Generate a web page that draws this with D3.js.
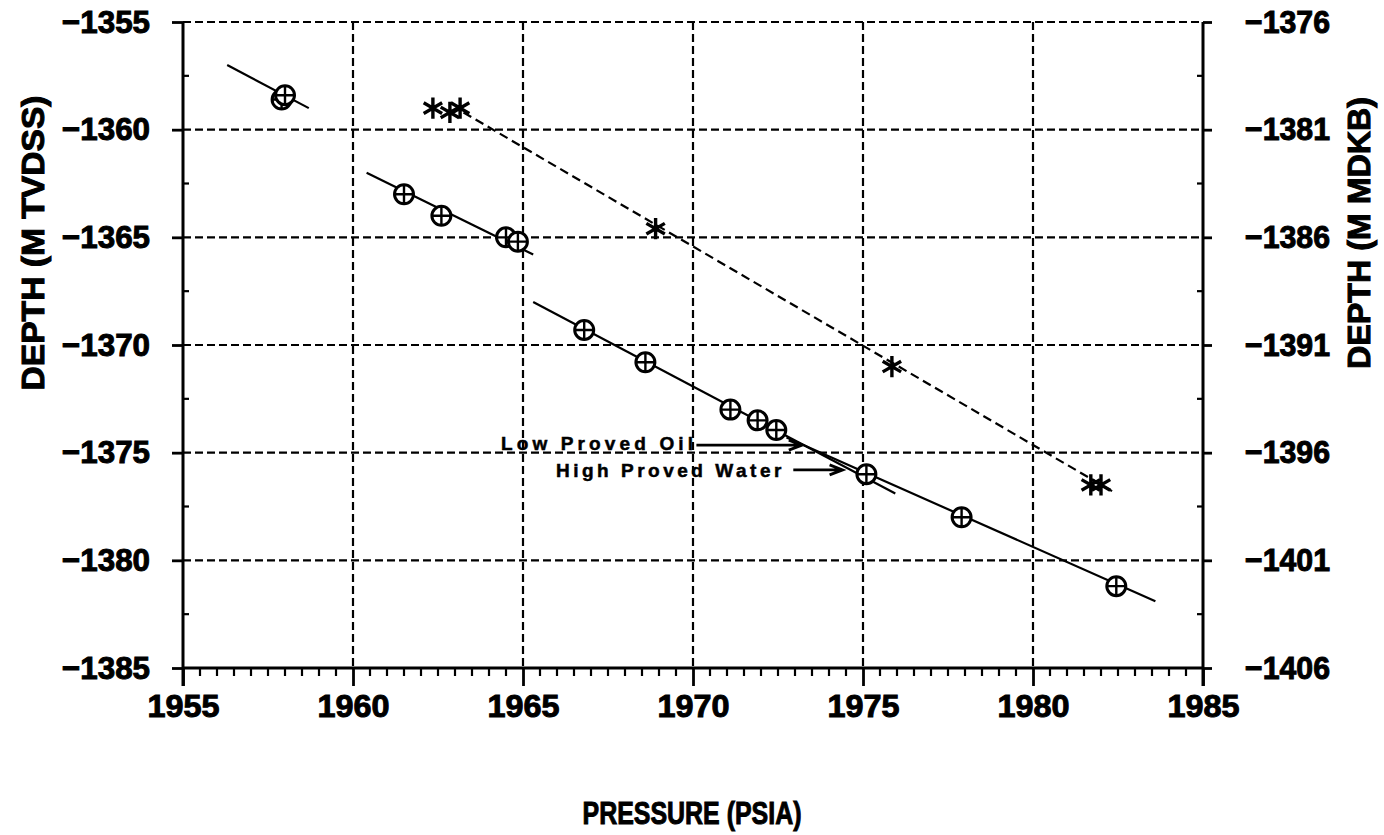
<!DOCTYPE html>
<html>
<head>
<meta charset="utf-8">
<script src="https://cdn.jsdelivr.net/npm/d3@7/dist/d3.min.js"></script>
<style>
  body { margin: 0; background: #fff; }
  svg { display: block; }
  .tick text, .title { font-family: "Liberation Sans", Arial, sans-serif; font-weight: bold; stroke: #000; stroke-width: 1px; }
  .note { font-family: "Liberation Sans", Arial, sans-serif; font-weight: bold; stroke: #000; stroke-width: 0.5px; }
</style>
</head>
<body>
<div id="chart"></div>
<script>
// pressure / depth readings (circles = measured points, stars = second well)
var circlePressure = [1957.9, 1958.0, 1961.5, 1962.6, 1964.5, 1964.85, 1966.8, 1968.6, 1971.1, 1971.9, 1972.45, 1975.1, 1977.9, 1982.45];
var circleDepth    = [-1358.6, -1358.4, -1363.0, -1364.0, -1365.0, -1365.2, -1369.3, -1370.8, -1373.0, -1373.5, -1373.95, -1376.0, -1378.0, -1381.2];
var starPressure   = [1962.35, 1962.85, 1963.15, 1968.9, 1975.85, 1981.7, 1982.0];
var starDepth      = [-1359.0, -1359.2, -1359.0, -1364.6, -1371.0, -1376.5, -1376.5];

// fitted gradient lines, as [pressure, depth] end points
var fitLines = [
    [[1956.3, -1357.0], [1958.7, -1359.0]],
    [[1960.4, -1362.0], [1965.3, -1365.8]],
    [[1965.3, -1368.0], [1975.95, -1376.9]],
    [[1972.75, -1374.3], [1983.6, -1381.9]]
];
var starLine = [[1963.25, -1359.2], [1982.45, -1376.9]];

var xTicks  = [1955, 1960, 1965, 1970, 1975, 1980, 1985];
var yTicks  = [-1355, -1360, -1365, -1370, -1375, -1380, -1385];
var y2Ticks = [-1376, -1381, -1386, -1391, -1396, -1401, -1406];
var notes   = ['Low Proved Oil', 'High Proved Water'];

var chart_width  = 1384;
var chart_height = 835;

var svg = d3.select('#chart')
    .append('svg')
    .attr('width', chart_width)
    .attr('height', chart_height);

var x_scale  = d3.scaleLinear().domain([1955, 1985]).range([183, 1203]);
var y_scale  = d3.scaleLinear().domain([-1355, -1385]).range([22, 668]);
var y2_scale = d3.scaleLinear().domain([-1376, -1406]).range([22, 668]);

// note: "top" is taken by window.top, so use other names
var xLeft = x_scale(1955), xRight = x_scale(1985), yTop = y_scale(-1355), yBottom = y_scale(-1385);

// dashed grid
svg.append('g').selectAll('line')
    .data(yTicks)
    .enter().append('line')
    .attr('x1', xLeft).attr('x2', xRight)
    .attr('y1', d => y_scale(d)).attr('y2', d => y_scale(d))
    .attr('stroke', '#000').attr('stroke-width', 2.2).attr('stroke-dasharray', '8,4');
svg.append('g').selectAll('line')
    .data(xTicks.slice(1, -1))
    .enter().append('line')
    .attr('x1', d => x_scale(d)).attr('x2', d => x_scale(d))
    .attr('y1', yTop).attr('y2', yBottom)
    .attr('stroke', '#000').attr('stroke-width', 2.2).attr('stroke-dasharray', '8,4');

// minor ticks (x every 0.5, y every 2.5)
var xMinor = d3.range(1955, 1985.01, 0.5).filter(d => d % 5 !== 0);
svg.append('g').selectAll('line')
    .data(xMinor)
    .enter().append('line')
    .attr('x1', d => x_scale(d)).attr('x2', d => x_scale(d))
    .attr('y1', yBottom).attr('y2', yBottom + 8)
    .attr('stroke', '#000').attr('stroke-width', 2.2);
var yMinor = d3.range(-1357.5, -1385, -5);
svg.append('g').selectAll('line')
    .data(yMinor)
    .enter().append('line')
    .attr('x1', xLeft).attr('x2', xLeft + 6)
    .attr('y1', d => y_scale(d)).attr('y2', d => y_scale(d))
    .attr('stroke', '#000').attr('stroke-width', 2.2);
svg.append('g').selectAll('line')
    .data(yMinor)
    .enter().append('line')
    .attr('x1', xRight).attr('x2', xRight - 6)
    .attr('y1', d => y_scale(d)).attr('y2', d => y_scale(d))
    .attr('stroke', '#000').attr('stroke-width', 2.2);

// axes
var minus = d => '\u2212' + Math.abs(d);
var xAxis = svg.append('g')
    .attr('transform', 'translate(0,' + yBottom + ')')
    .call(d3.axisBottom(x_scale).tickValues(xTicks).tickSize(18).tickPadding(8).tickFormat(d3.format('d')));
var yAxis = svg.append('g')
    .attr('transform', 'translate(' + xLeft + ',0)')
    .call(d3.axisLeft(y_scale).tickValues(yTicks).tickSize(11).tickPadding(22).tickFormat(minus));
var y2Axis = svg.append('g')
    .attr('transform', 'translate(' + xRight + ',0)')
    .call(d3.axisRight(y2_scale).tickValues(y2Ticks).tickSize(9).tickPadding(33).tickFormat(minus));

[xAxis, yAxis, y2Axis].forEach(function (a) {
    a.select('.domain').attr('stroke-width', 3).attr('stroke', '#000');
    a.selectAll('.tick line').attr('stroke-width', 2.8).attr('stroke', '#000');
    a.selectAll('.tick text').attr('font-size', 32).attr('fill', '#000')
        .attr('lengthAdjust', 'spacingAndGlyphs');
});
xAxis.selectAll('.tick text').attr('textLength', 72);
yAxis.selectAll('.tick text').attr('textLength', 88);
y2Axis.selectAll('.tick text').attr('textLength', 85);
xAxis.select('.domain').attr('d', 'M' + xLeft + ',0H' + xRight);
yAxis.select('.domain').attr('d', 'M0,' + yTop + 'V' + (yBottom + 18));
y2Axis.select('.domain').attr('d', 'M0,' + yTop + 'V' + (yBottom + 18));

// axis titles
svg.append('text').attr('class', 'title')
    .attr('transform', 'translate(44,243) rotate(-90)')
    .attr('text-anchor', 'middle').attr('font-size', 32)
    .attr('textLength', 295).attr('lengthAdjust', 'spacingAndGlyphs')
    .text('DEPTH (M TVDSS)');
svg.append('text').attr('class', 'title')
    .attr('transform', 'translate(1370,233) rotate(-90)')
    .attr('text-anchor', 'middle').attr('font-size', 32)
    .attr('textLength', 272).attr('lengthAdjust', 'spacingAndGlyphs')
    .text('DEPTH (M MDKB)');
svg.append('text').attr('class', 'title')
    .attr('x', 692).attr('y', 824)
    .attr('text-anchor', 'middle').attr('font-size', 32)
    .attr('textLength', 219).attr('lengthAdjust', 'spacingAndGlyphs')
    .text('PRESSURE (PSIA)');

// fit lines
var line = d3.line().x(d => x_scale(d[0])).y(d => y_scale(d[1]));
svg.append('g').selectAll('path')
    .data(fitLines)
    .enter().append('path')
    .attr('d', line)
    .attr('fill', 'none').attr('stroke', '#000').attr('stroke-width', 2.2);
svg.append('path')
    .attr('d', line(starLine))
    .attr('fill', 'none').attr('stroke', '#000').attr('stroke-width', 2.2)
    .attr('stroke-dasharray', '9,5');

// circle-plus markers
var circles = svg.append('g').selectAll('g')
    .data(circlePressure)
    .enter().append('g')
    .attr('transform', (d, i) => 'translate(' + x_scale(d) + ',' + y_scale(circleDepth[i]) + ')');
circles.append('circle').attr('r', 9.5)
    .attr('fill', '#fff').attr('stroke', '#000').attr('stroke-width', 3);
circles.append('path').attr('d', 'M-9.5,0H9.5M0,-9.5V9.5')
    .attr('stroke', '#000').attr('stroke-width', 2.4);

// star markers
svg.append('g').selectAll('path')
    .data(starPressure)
    .enter().append('path')
    .attr('transform', (d, i) => 'translate(' + x_scale(d) + ',' + y_scale(starDepth[i]) + ')')
    .attr('d', d3.symbol(d3.symbolAsterisk, 320))
    .attr('fill', 'none').attr('stroke', '#000').attr('stroke-width', 3.4);

// contact annotations
var noteX = [[1964.35, 1970.0], [1965.97, 1972.6]];
var noteY = [-1374.88, -1376.13];
var arrowX = [[1970.1, 1973.2], [1972.95, 1974.4]];
var arrowY = [-1374.65, -1375.8];
notes.forEach(function (t, i) {
    svg.append('text').attr('class', 'note')
        .attr('x', x_scale(noteX[i][0])).attr('y', y_scale(noteY[i]))
        .attr('font-size', 19)
        .attr('textLength', x_scale(noteX[i][1]) - x_scale(noteX[i][0]))
        .attr('lengthAdjust', 'spacing')
        .text(t);
    var x1 = x_scale(arrowX[i][0]), x2 = x_scale(arrowX[i][1]), yy = y_scale(arrowY[i]);
    svg.append('path')
        .attr('d', 'M' + x1 + ',' + yy + 'H' + x2 + 'M' + (x2 - 13) + ',' + (yy - 5) + 'L' + x2 + ',' + yy + 'L' + (x2 - 13) + ',' + (yy + 5))
        .attr('fill', 'none').attr('stroke', '#000').attr('stroke-width', 2.8);
});
</script>
</body>
</html>
